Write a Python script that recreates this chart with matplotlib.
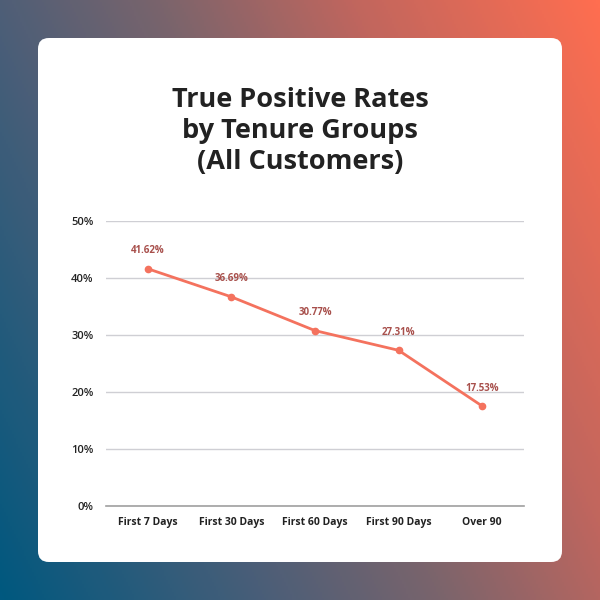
import numpy as np
import matplotlib
matplotlib.use("Agg")
import matplotlib.pyplot as plt
from matplotlib.patches import FancyBboxPatch
from matplotlib.colors import LinearSegmentedColormap

categories = ["First 7 Days", "First 30 Days", "First 60 Days", "First 90 Days", "Over 90"]
rates = [41.62, 36.69, 30.77, 27.31, 17.53]
yticks = [0, 10, 20, 30, 40, 50]
title = "True Positive Rates\nby Tenure Groups\n(All Customers)"

fig = plt.figure(figsize=(6, 6), dpi=100)

# gradient background
bg = fig.add_axes([0, 0, 1, 1])
bg.set_axis_off()
n = 300
xx, yy = np.meshgrid(np.linspace(0, 1, n), np.linspace(0, 1, n))
t = np.clip(0.68 * xx + 0.32 * yy, 0, 1)
cmap = LinearSegmentedColormap.from_list(
    "bg", [(0, "#00587f"), (0.3, "#4a5e78"), (0.5, "#7a646c"), (0.72, "#c0665e"), (1, "#ff6e50")])
bg.imshow(t, cmap=cmap, origin="lower", extent=[0, 1, 0, 1], aspect="auto")
bg.set_xlim(0, 1)
bg.set_ylim(0, 1)

card = FancyBboxPatch((38 / 600, 38 / 600), 524 / 600, 524 / 600,
                      boxstyle="round,pad=0,rounding_size=0.018",
                      transform=fig.transFigure, facecolor="white", edgecolor="none", zorder=2)
fig.patches.append(card)

fig.text(0.5, 1 - 131 / 600, title, ha="center", va="center", fontsize=19.5,
         fontweight="bold", color="#222222", family="Open Sans", linespacing=1.25, zorder=3)

ax = fig.add_axes([106 / 600, 1 - 506 / 600, 418 / 600, 285 / 600])
ax.set_zorder(5)
ax.patch.set_visible(False)
x = np.arange(len(categories))
ax.plot(x, rates, color="#f4725e", lw=2, marker="o", ms=4.5, zorder=4, clip_on=False)
for xi, v in zip(x, rates):
    ax.annotate(f"{v:.2f}%", (xi, v), xytext=(0, 13), textcoords="offset points",
                ha="center", va="center", fontsize=7, fontweight="bold",
                color="#a8504c", family="Open Sans")
ax.set_xlim(-0.5, len(categories) - 0.5)
ax.set_ylim(0, 50)
ax.set_yticks(yticks)
ax.set_yticklabels([f"{v}%" for v in yticks])
ax.set_xticks(x)
ax.set_xticklabels(categories)
for s in ["top", "right", "left"]:
    ax.spines[s].set_visible(False)
ax.spines["bottom"].set_color("#a0a0a0")
ax.spines["bottom"].set_linewidth(1.2)
ax.grid(axis="y", color="#cfcfd4", lw=1)
ax.set_axisbelow(True)
ax.tick_params(length=0, labelsize=7.5, colors="#222222", pad=8)
for lab in ax.get_xticklabels():
    lab.set_family("Open Sans")
    lab.set_fontweight("bold")
for lab in ax.get_yticklabels():
    lab.set_family("Open Sans")
    lab.set_fontweight("semibold")
    lab.set_fontsize(8)
ax.tick_params(axis="y", pad=9)

fig.savefig("out.png", dpi=100)
